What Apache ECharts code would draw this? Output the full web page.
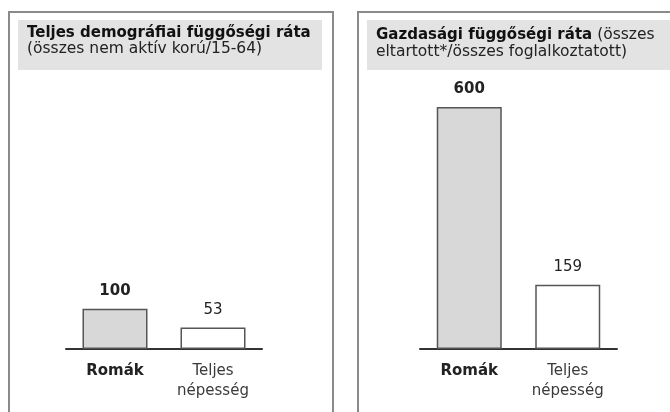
<!DOCTYPE html>
<html lang="hu">
<head>
    <meta charset="UTF-8">
    <script src="https://cdn.jsdelivr.net/npm/echarts@6/dist/echarts.min.js"></script>
    <title>Függőségi ráták</title>
</head>
<body style="margin:0">
    <div id="main" style="width: 670px; height: 412px;"></div>
    <script>
        // adatok
        var categories = ['Romák', 'Teljes\nnépesség'];
        var demoValues = [100, 53];      // teljes demográfiai függőségi ráta
        var econValues = [600, 159];     // gazdasági függőségi ráta
        var barColors = ['#d8d8d8', '#ffffff'];

        var myChart = echarts.init(document.getElementById('main'));

        var font = 'DejaVu Sans, sans-serif';

        // oszlopok adatai: első oszlop szürke és félkövér címke
        function makeData(values) {
            return values.map(function (v, i) {
                return {
                    value: v,
                    itemStyle: { color: barColors[i] },
                    label: { fontWeight: i === 0 ? 'bold' : 'normal' }
                };
            });
        }

        function xAxisFor(gridIndex) {
            return {
                type: 'category',
                gridIndex: gridIndex,
                data: categories,
                axisLine: { lineStyle: { color: '#333', width: 2 } },
                axisTick: { show: false },
                axisLabel: {
                    margin: 12,
                    lineHeight: 20,
                    interval: 0,
                    formatter: function (val, idx) {
                        return idx === 0 ? '{b|' + val + '}' : '{n|' + val + '}';
                    },
                    rich: {
                        b: { fontFamily: font, fontSize: 15, fontWeight: 'bold', color: '#222', lineHeight: 20 },
                        n: { fontFamily: font, fontSize: 15, fontWeight: 'normal', color: '#3a3a3a', lineHeight: 20 }
                    }
                }
            };
        }

        function yAxisFor(gridIndex) {
            return {
                type: 'value',
                gridIndex: gridIndex,
                min: 0,
                max: 600,
                show: false
            };
        }

        function seriesFor(idx, values) {
            return {
                type: 'bar',
                xAxisIndex: idx,
                yAxisIndex: idx,
                barWidth: 65,
                data: makeData(values),
                itemStyle: { borderColor: '#555', borderWidth: 1.5 },
                label: {
                    show: true,
                    position: 'top',
                    distance: 10,
                    fontFamily: font,
                    fontSize: 15,
                    color: '#222'
                }
            };
        }

        var titleRich = {
            b: { fontFamily: font, fontSize: 15, fontWeight: 'bold', color: '#111', lineHeight: 15 },
            n: { fontFamily: font, fontSize: 15.5, fontWeight: 'normal', color: '#222', lineHeight: 15 }
        };

        var option = {
            backgroundColor: '#fff',
            animation: false,
            title: [
                {
                    left: 27, top: 26, padding: 0,
                    text: '{b|Teljes demográfiai függőségi ráta}\n{n|(összes nem aktív korú/15-64)}',
                    textStyle: { fontWeight: 'normal', rich: titleRich }
                },
                {
                    left: 376, top: 26, padding: 0,
                    text: '{b|Gazdasági függőségi ráta} {n|(összes}\n{n|eltartott*/összes foglalkoztatott)}',
                    textStyle: { fontWeight: 'normal', rich: titleRich }
                }
            ],
            graphic: [
                // panel keretek
                { type: 'rect', z: -10, shape: { x: 9, y: 12, width: 324, height: 420 },
                  style: { fill: '#fff', stroke: '#8a8a8a', lineWidth: 2 } },
                { type: 'rect', z: -10, shape: { x: 358, y: 12, width: 330, height: 420 },
                  style: { fill: '#fff', stroke: '#8a8a8a', lineWidth: 2 } },
                // címdobozok
                { type: 'rect', z: -9, shape: { x: 18, y: 20, width: 304, height: 50 },
                  style: { fill: '#e3e3e3' } },
                { type: 'rect', z: -9, shape: { x: 367, y: 20, width: 310, height: 50 },
                  style: { fill: '#e3e3e3' } }
            ],
            grid: [
                { left: 66, width: 196, top: 107, bottom: 63 },
                { left: 420, width: 197, top: 107, bottom: 63 }
            ],
            xAxis: [xAxisFor(0), xAxisFor(1)],
            yAxis: [yAxisFor(0), yAxisFor(1)],
            series: [seriesFor(0, demoValues), seriesFor(1, econValues)]
        };
        myChart.setOption(option);
    </script>
</body>
</html>
